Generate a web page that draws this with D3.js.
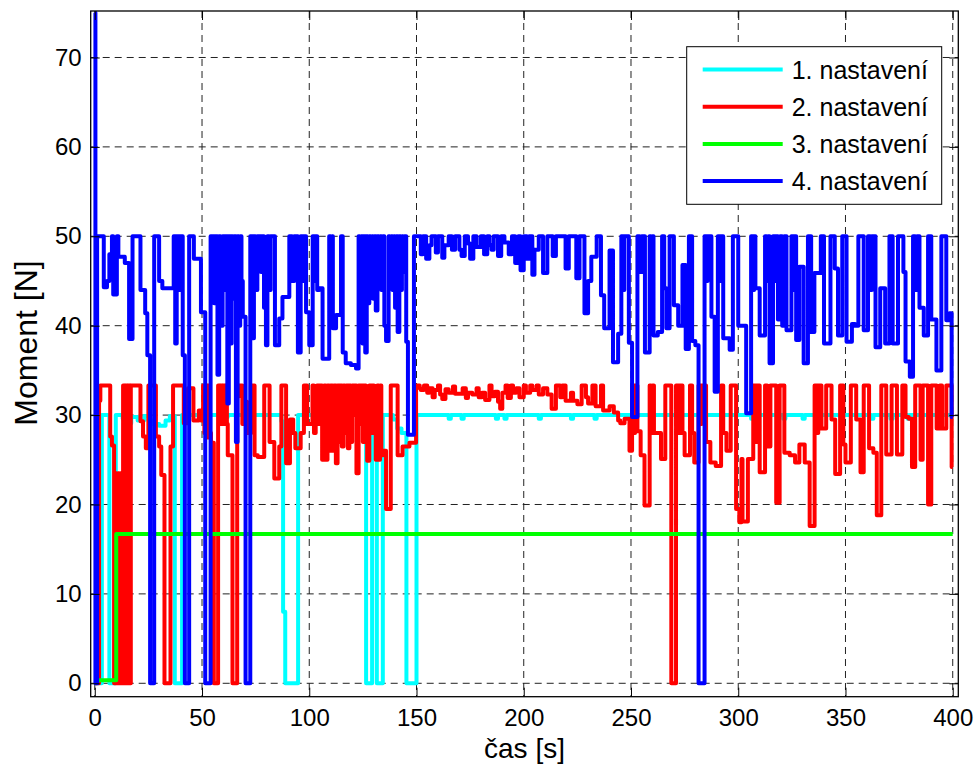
<!DOCTYPE html>
<html>
<head>
<meta charset="utf-8">
<script src="https://cdn.jsdelivr.net/npm/d3@7"></script>
<style>
  body { margin: 0; background: #fff; }
  svg text { font-family: "Liberation Sans", Arial, sans-serif; }
</style>
</head>
<body>
<div id="chart"></div>
<script>
// tick values
var xTicks = [0, 50, 100, 150, 200, 250, 300, 350, 400];
var yTicks = [0, 10, 20, 30, 40, 50, 60, 70];

var legendLabels = ["1. nastavení", "2. nastavení", "3. nastavení", "4. nastavení"];

// series as [time, value] step points (value holds until next time)
var series1 = [[0,0],[3.3,30],[6.8,0],[9.8,30],[13,29.6],[15,29.1],[17,29.8],[20,29.4],[23,29.9],[25,29.4],[27,29],
  [30,28.8],[33,29.4],[35,29.9],[37.3,0],[40.7,30],[60,29.8],[62,30],[87,29.3],[87.8,8],[88.8,0],[94.8,30],
  [126.5,0],[129.3,30],[131.5,0],[134.3,30],[139,29.5],[141,28.5],[143,28],[145.3,0],[150,30],[165,29.6],[166,30],
  [171,29.6],[172,30],[187,29.6],[188,30],[191,29.6],[192,30],[207,29.6],[208,30],[222,29.6],[223,30],[233,29.6],
  [234,30],[306,29.6],[307,30],[321,29.6],[322,30],[330,29.6],[331,30],[362,29.6],[363,30],[371,29.6],[372,30],
  [379,29.6],[380,30],[400,30]];

var series2 = [[0,0],[2,31.6],[2.6,33.3],[7.2,27.6],[8,26.6],[9,0],[9.6,23.5],[10.2,0],[10.8,23.5],[11.4,0],[12,23.5],
  [12.6,0],[13.2,33.3],[13.8,0],[14.4,33.3],[15,0],[15.6,33.3],[16.2,0],[16.8,33.3],[21.3,29.3],[22.5,27.6],[23.8,26.3],
  [25,33.3],[28.5,27.6],[30,26.5],[31,23.3],[32.5,0],[35.3,26.5],[36.5,33.3],[41.5,29.1],[43.5,33],[46,29.4],[48.5,30.5],
  [49.5,29.4],[50.5,33.3],[51.1,28],[51.7,33.3],[52.3,27.5],[52.9,33.3],[53.5,28],[54.2,26.9],[55.5,0],[57.5,33.3],
  [58.1,29],[58.7,33.3],[59.3,29],[59.9,33.3],[60.5,29],[61.1,33.3],[61.6,29],[62,25.5],[64.2,0],[66.4,32.1],[67.3,33.3],
  [68.8,29],[70,31.5],[71,28],[72.8,33.3],[74.5,25.5],[76,25.3],[79,33.3],[80.5,33.3],[81.5,27],[83.7,22.9],[86,26.5],
  [87,33.3],[89.2,24.6],[91,29.5],[92.5,28],[93.5,26.3],[96,28],[97.5,33.3],[99,29],[101.5,33.3],[102.2,28],[103,31.7],
  [103.6,33.3],[104.5,29],[105.2,33.3],[106,25],[107,33.3],[107.6,25],[108.5,33.3],[109.2,26],[110,33.3],[110.8,26],
  [111.6,33.3],[112.4,24.6],[113.2,33.3],[113.8,27],[114.5,33.3],[115.2,26.5],[116,33.3],[116.7,28],[117.3,33.3],
  [118,26.3],[118.7,33.3],[119.4,27],[120,33.3],[120.7,30],[121.4,33.3],[122,23.5],[123,33.3],[123.7,29],[124.4,33.3],
  [125,27],[125.7,33.3],[126.4,29],[127,24.9],[128,33.3],[128.8,28],[129.5,33.3],[130.2,29],[131,25],[131.7,33.3],
  [132.4,25],[133,33.3],[133.6,25.5],[134.5,26],[135.8,19.5],[138,33.3],[141.2,25.5],[143.5,26.5],[146.7,26.9],
  [149.8,33.3],[151.5,33],[152,32.8],[153.5,33.3],[155,32.5],[156,33],[157.5,32],[158.5,32.8],[160,33.3],[161,32.3],
  [162,31.8],[163.5,32.9],[165,32.5],[167,33.2],[168,32.4],[171.5,33],[173,31.9],[174,32.5],[176,32.3],[178,33],[179,32],
  [180.5,32.5],[182,31.7],[184,33.3],[185,32.1],[186.5,32.6],[188,31.5],[189,30.7],[190,32.5],[191.5,33.3],[192.5,31.9],
  [194,33.3],[195,32.5],[196.5,33],[198,32],[200,33.3],[201,32.5],[203,33.3],[204,32.8],[206,33.3],[207,32.3],[209,33],
  [211,32.3],[213,30.7],[215,33.3],[217,32],[218,33.3],[219.5,31.6],[222,32.5],[223,31.6],[225,31.2],[227,33.3],[229,32],
  [230,31.3],[232,33.3],[233.5,31],[236,33.3],[237,30.5],[240,31],[242,30.3],[244,29.4],[245,29.1],[247,29.6],[249.3,26],
  [250.5,33.3],[251.2,28],[251.9,33.3],[253,28.2],[254.5,25.5],[256.3,19.9],[258.7,33.3],[259.4,28],[260,33.3],
  [260.7,28],[261.5,28],[264,25.1],[266,33.3],[268.8,0],[271,33.3],[272,28],[272.7,33.3],[274,28],[275,25.5],
  [277.5,33.3],[278.5,28],[279.5,24.7],[281.5,33.3],[282.3,29],[283,33.3],[285,27],[287,24.7],[289.5,24.3],[292,33.3],
  [293,28],[294.5,26],[296.5,33.3],[299,19.5],[300.5,18],[301.5,25.1],[302,18.1],[304.5,25.1],[307,33.3],[308,27],
  [308.7,33.3],[310,23.6],[312.5,33.3],[313.5,26.5],[315,33.3],[317.7,20.2],[319.3,33.3],[321.5,25.8],[324,25.5],
  [326.5,24.7],[328.5,26.7],[331,24.7],[333.3,17.6],[335.6,33.3],[336.6,28],[337.3,33.3],[338.8,28.5],[341,33.3],
  [343.5,29.5],[345.2,23.4],[347.5,33.3],[349,26.7],[350,24.7],[352.5,33.3],[355,29.5],[357,23.6],[358.5,33.3],
  [361,26.3],[363,25.8],[364.6,18.8],[366.7,33.3],[369,25.6],[371.5,33.3],[374,25.6],[376.5,33.3],[378,29.8],
  [379.5,29.6],[381,24.2],[382.5,33.3],[385,25],[386,33.3],[388.5,20],[390,33.3],[392.5,28.5],[394,33.3],[395,28.5],
  [397,33.3],[399.5,24.2],[400,24.2]];

var series3 = [[0,0.35],[10,16.7],[400,16.7]];

var series4 = [[0,75],[0.3,0],[1.1,50],[4.2,44.3],[5.7,45],[6.8,48],[8,50],[8.6,43.5],[10.3,50],[11,47.7],[14,47],
  [16,38.5],[17.6,50],[21.3,44],[23.5,41.4],[24.5,36.7],[25.8,0],[27.7,50],[30,45],[31.5,44.2],[36.8,50],[37.5,38],
  [38.2,50],[38.8,44],[39.5,50],[41,36.7],[42,0],[44,50],[46.2,47.5],[49.5,41.5],[51.5,0],[54,50],[54.7,44],[55.4,50],
  [55.7,42.5],[56.4,50],[57.2,34.5],[58,50],[58.6,40],[59.6,50],[60.3,44],[61,50],[61.8,31.3],[62.5,50],[63.1,38],
  [63.8,50],[64.3,43],[64.8,50],[65.8,27],[66.6,50],[67.2,40],[67.8,50],[68.4,45],[69,41],[70.3,0],[72.5,50],[73.5,38.6],
  [74.2,50],[74.9,44],[75.8,50],[77.5,46],[78.2,50],[78.9,42],[79.8,37.8],[80.5,50],[81.2,44],[82,50],[84,37.8],
  [86,40.8],[87.5,43.2],[90.7,50],[92,45],[93,50],[94.7,37],[96,50],[96.7,45],[97.4,50],[98.5,41.5],[100,37.8],
  [101.6,50],[102.3,45],[103,50],[103.7,44],[104.7,44.2],[106.2,36.3],[109.3,50],[110,44],[110.6,50],[111,39.7],
  [112.5,41.2],[114.8,50],[115.6,37],[117,35.8],[119.4,35.6],[121.8,35.2],[123,50],[123.6,40],[124.2,50],[124.8,38],
  [125.5,50],[126.1,37],[126.8,50],[127.4,42.5],[128,50],[128.6,45],[129.2,50],[129.8,43],[130.4,50],[131,41.7],
  [131.8,50],[132.4,46],[133,50],[133.6,44],[134.4,50],[135,40],[135.8,38.3],[137,50],[137.6,45],[138.2,50],[138.8,44],
  [139.4,50],[140,42],[140.6,50],[141.2,39.3],[142,50],[142.6,44],[143.2,50],[143.8,46],[144.4,50],[145.2,38.2],
  [146,27.8],[148.8,50],[152,48],[153,50],[154.5,47.5],[156,49],[157,50],[159,48.2],[160,50],[162,47.6],[163,49],
  [165,50],[166.5,48.5],[168,50],[170,48.5],[171,47.8],[172.5,50],[174,49.2],[175,47.5],[176.5,50],[178,48.8],[180,50],
  [181.5,48],[183,50],[184,49],[185,48.5],[186,50],[188,47.8],[189.5,50],[191,49.3],[193,48],[194.5,50],[196,47],
  [197.5,50],[198.5,46.2],[200,50],[201.5,47.5],[202.5,50],[204,45.7],[205,48.5],[207,50],[209,45.9],[211,50],
  [213.5,47.8],[215,50],[219.5,46.4],[221,50],[224.5,45.3],[226,50],[228.3,41.4],[230,45],[231.5,47.7],[234,50],
  [236,43.4],[237.5,39.7],[240,48.4],[241.6,35.9],[244,39.1],[245.5,50],[246.2,44],[246.9,50],[249,38.1],[250.5,29.8],
  [253,50],[254,46],[255,50],[256.5,37],[258.7,50],[259.4,44],[260,50],[260.5,38.9],[262.5,39.3],[264.5,50],[265.5,44.2],
  [266.5,39.7],[268,50],[270,42.3],[272,40],[274,46.8],[275.5,37.4],[277,50],[278.5,38.3],[280,37.8],[281.5,0],
  [284.3,50],[285,45],[285.7,50],[287.5,41],[289,32.6],[290.5,50],[291.2,45],[291.9,50],[293,38.6],[296,37.3],[297.5,50],
  [300,40],[303.7,30.2],[306,50],[306.7,44],[307.4,50],[308,44.2],[310,38.9],[312.5,50],[313.2,45],[313.8,50],
  [314.6,35.8],[316.2,50],[316.9,45],[317.6,50],[318.5,40.7],[319.5,50],[320.5,40],[321.5,50],[322.5,39.5],[324.8,50],
  [325.5,44],[326.2,50],[327,38.4],[328.5,46.6],[330.5,35.8],[332.5,50],[334,39.3],[335.5,45.9],[338.5,50],[340,38],
  [343,50],[345,46.4],[346.5,38.9],[348.5,50],[350.5,38.2],[353,40.2],[354.5,40],[356,50],[358.5,39.5],[360.5,50],
  [361.5,44],[362.3,50],[364,37.6],[366.2,44.2],[368.5,38],[370.5,50],[372,38],[374.5,50],[377,46],[378,36],[380,34.3],
  [381.5,50],[382.5,44],[383.4,50],[384.5,42],[386.5,38.9],[388.5,50],[390,40.7],[392.4,35],[394.7,50],[397,40.6],
  [398.5,41.4],[399.5,29.8],[400,29.8]];

var allSeries = [series1, series2, series3, series4];
var lineColors = ["#00ffff", "#ff0000", "#00ff00", "#0000ff"];

var svgWidth = 976, svgHeight = 764;
var plotLeft = 90.7, plotRight = 958.3, plotTop = 11, plotBottom = 696.7;

var svg = d3.select("#chart").append("svg")
  .attr("width", svgWidth)
  .attr("height", svgHeight);

var xScale = d3.scaleLinear().domain([-1.9, 402.6]).range([plotLeft, plotRight]);
var yScale = d3.scaleLinear().domain([-1.5, 75.2]).range([plotBottom, plotTop]);

// grid
var grid = svg.append("g");
grid.selectAll(".vgrid").data(xTicks).enter().append("line")
  .attr("x1", d => xScale(d)).attr("x2", d => xScale(d))
  .attr("y1", plotTop).attr("y2", plotBottom)
  .attr("stroke", "#222").attr("stroke-width", 1).attr("stroke-dasharray", "7,5");
grid.selectAll(".hgrid").data(yTicks).enter().append("line")
  .attr("x1", plotLeft).attr("x2", plotRight)
  .attr("y1", d => yScale(d)).attr("y2", d => yScale(d))
  .attr("stroke", "#222").attr("stroke-width", 1).attr("stroke-dasharray", "7,5");

// clip
svg.append("clipPath").attr("id", "clip").append("rect")
  .attr("x", plotLeft).attr("y", plotTop)
  .attr("width", plotRight - plotLeft).attr("height", plotBottom - plotTop);

var line = d3.line()
  .x(d => xScale(d[0]))
  .y(d => yScale(d[1]))
  .curve(d3.curveStepAfter);

svg.append("g").attr("clip-path", "url(#clip)")
  .selectAll("path").data(allSeries).enter().append("path")
  .attr("d", line)
  .attr("fill", "none")
  .attr("stroke", (d, i) => lineColors[i])
  .attr("stroke-width", 4)
  .attr("stroke-linejoin", "round");

// axes, ticks inside on all four sides
svg.append("g").attr("transform", `translate(0, ${plotBottom})`)
  .call(d3.axisBottom(xScale).tickValues(xTicks).tickSizeInner(-9).tickSizeOuter(0).tickPadding(12));
svg.append("g").attr("transform", `translate(${plotLeft}, 0)`)
  .call(d3.axisLeft(yScale).tickValues(yTicks).tickSizeInner(-9).tickSizeOuter(0).tickPadding(9));
svg.append("g").attr("transform", `translate(0, ${plotTop})`)
  .call(d3.axisTop(xScale).tickValues(xTicks).tickSizeInner(-9).tickSizeOuter(0).tickFormat(""));
svg.append("g").attr("transform", `translate(${plotRight}, 0)`)
  .call(d3.axisRight(yScale).tickValues(yTicks).tickSizeInner(-9).tickSizeOuter(0).tickFormat(""));

svg.selectAll(".domain").remove();
svg.selectAll(".tick line").attr("stroke", "#000").attr("stroke-width", 1);
svg.selectAll(".tick text")
  .attr("font-size", "24px")
  .attr("fill", "#000")
  .style("font-family", "'Liberation Sans', Arial, sans-serif");

svg.append("rect")
  .attr("x", plotLeft).attr("y", plotTop)
  .attr("width", plotRight - plotLeft).attr("height", plotBottom - plotTop)
  .attr("fill", "none").attr("stroke", "#000").attr("stroke-width", 1.3);

// axis titles
svg.append("text")
  .attr("x", (plotLeft + plotRight) / 2).attr("y", 757.5)
  .attr("text-anchor", "middle").attr("font-size", "28px")
  .text("čas [s]");

svg.append("text")
  .attr("transform", "translate(37, 343) rotate(-90)")
  .attr("text-anchor", "middle").attr("font-size", "32px")
  .text("Moment [N]");

// legend
var legend = svg.append("g");
legend.append("rect")
  .attr("x", 686.7).attr("y", 46.7).attr("width", 255).attr("height", 157.6)
  .attr("fill", "#fff").attr("stroke", "#000").attr("stroke-width", 1);

var rows = legend.selectAll(".row").data(legendLabels).enter().append("g")
  .attr("transform", (d, i) => `translate(0, ${69.5 + i * 37.2})`);
rows.append("line")
  .attr("x1", 702.7).attr("x2", 782.7).attr("y1", 0).attr("y2", 0)
  .attr("stroke", (d, i) => lineColors[i]).attr("stroke-width", 4);
rows.append("text")
  .attr("x", 791.7).attr("y", 9)
  .attr("font-size", "25px")
  .text(d => d);
</script>
</body>
</html>
